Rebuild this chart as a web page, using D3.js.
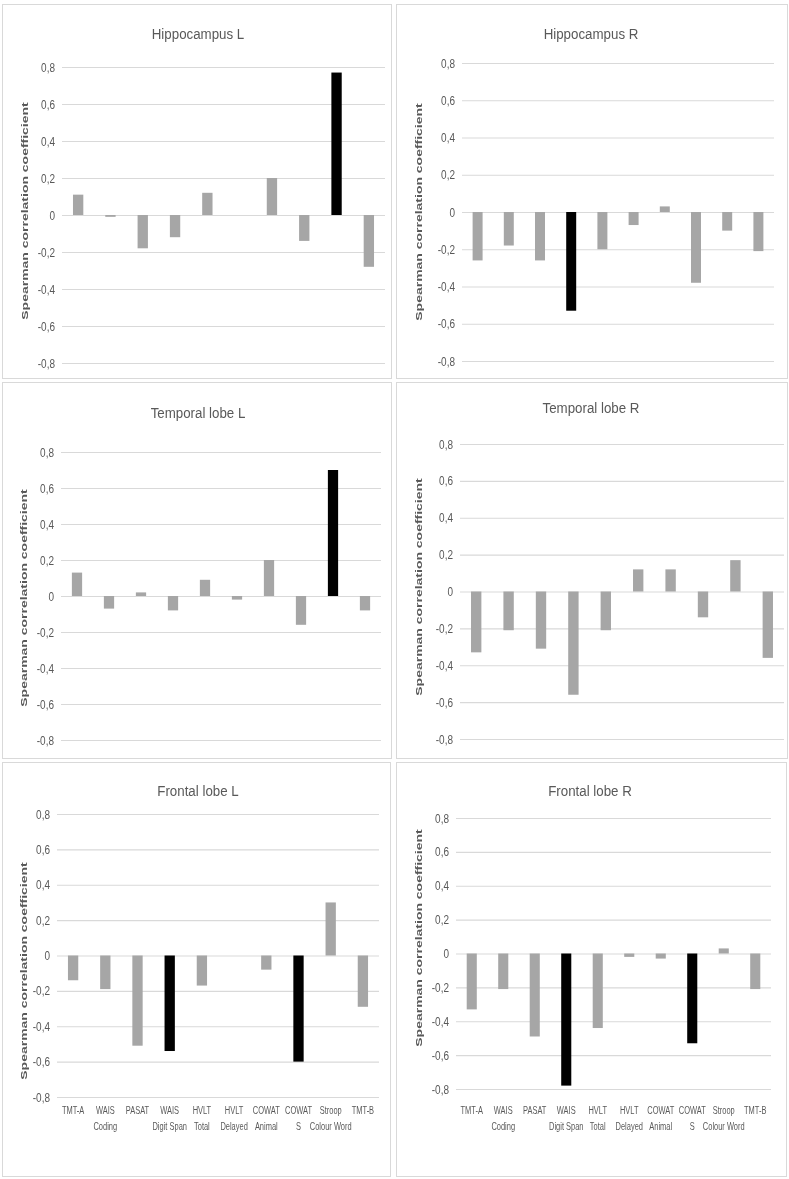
<!DOCTYPE html>
<html><head><meta charset="utf-8">
<script src="https://cdn.jsdelivr.net/npm/d3@7"></script>
<style>body{margin:0;background:#fff} #c{filter:grayscale(1)}</style>
</head><body>
<svg id="c" width="789" height="1179"></svg>
<script>
// ---- data ----
const categories = ["TMT-A","WAIS Coding","PASAT","WAIS Digit Span","HVLT Total","HVLT Delayed","COWAT Animal","COWAT S","Stroop Colour Word","TMT-B"];
const categoryLines = [["TMT-A"],["WAIS","Coding"],["PASAT"],["WAIS","Digit Span"],["HVLT","Total"],["HVLT","Delayed"],["COWAT","Animal"],["COWAT","S"],["Stroop","Colour Word"],["TMT-B"]];
const panelTitles = ["Hippocampus L","Hippocampus R","Temporal lobe L","Temporal lobe R","Frontal lobe L","Frontal lobe R"];
const hippocampusL = [0.11,-0.01,-0.18,-0.12,0.12,0,0.20,-0.14,0.77,-0.28];
const hippocampusR = [-0.26,-0.18,-0.26,-0.53,-0.20,-0.07,0.03,-0.38,-0.10,-0.21];
const temporalL = [0.13,-0.07,0.02,-0.08,0.09,-0.02,0.20,-0.16,0.70,-0.08];
const temporalR = [-0.33,-0.21,-0.31,-0.56,-0.21,0.12,0.12,-0.14,0.17,-0.36];
const frontalL = [-0.14,-0.19,-0.51,-0.54,-0.17,0,-0.08,-0.60,0.30,-0.29];
const frontalR = [-0.33,-0.21,-0.49,-0.78,-0.44,-0.02,-0.03,-0.53,0.03,-0.21];
const significant = [[8],[3],[8],[],[3,7],[3,7]];
const yTicks = [-0.8,-0.6,-0.4,-0.2,0,0.2,0.4,0.6,0.8];
const yAxisTitle = "Spearman correlation coefficient";

const seriesList = [hippocampusL,hippocampusR,temporalL,temporalR,frontalL,frontalR];

// ---- layout (positions) ----
const layout = [
 {box:[2,4,389,374], plot:[62,385,67,363], title:[198,39], ylab:[25,211], labY:null},
 {box:[396,4,391,374], plot:[462,774,63,361], title:[591,39], ylab:[419,212], labY:null},
 {box:[2,382,389,376], plot:[61,381,452,740], title:[198,418], ylab:[24,598], labY:null},
 {box:[396,382,391,376], plot:[460,784,444,739], title:[591,413], ylab:[419,587], labY:null},
 {box:[2,762,388,414], plot:[57,379,814,1097], title:[198,796], ylab:[24,971], labY:1114},
 {box:[396,762,390,414], plot:[456,771,818,1089], title:[590,796], ylab:[419,938], labY:1114}
];

const FONT = "'Liberation Sans', Arial, sans-serif";
const TXT = "#595959";
const svg = d3.select("#c");
const fmt = d3.formatLocale({decimal:",",thousands:".",grouping:[3],currency:["",""],minus:"-"}).format(".1~f");

seriesList.forEach((values,i)=>{
  const L = layout[i];
  const g = svg.append("g");
  g.append("rect")
    .attr("x",L.box[0]+0.5).attr("y",L.box[1]+0.5)
    .attr("width",L.box[2]).attr("height",L.box[3])
    .attr("fill","#fff").attr("stroke","#d9d9d9").attr("stroke-width",1);

  const x = d3.scaleBand().domain(categories).range([L.plot[0],L.plot[1]])
    .paddingInner(0.68).paddingOuter(0.34);
  const y = d3.scaleLinear().domain([-0.8,0.8]).range([L.plot[3],L.plot[2]]);

  const ax = g.append("g").attr("transform",`translate(${L.plot[0]},0)`)
    .call(d3.axisLeft(y).tickValues(yTicks).tickSize(-(L.plot[1]-L.plot[0])).tickPadding(8).tickFormat(fmt));
  ax.select(".domain").remove();
  ax.selectAll(".tick line").attr("stroke","#d9d9d9").attr("stroke-width",1.2);
  ax.selectAll(".tick text")
    .attr("x",0).attr("transform","translate(-7,0) scale(0.8,1)")
    .attr("fill",TXT).style("font-family",FONT).style("font-size","12.5px");

  g.selectAll("rect.bar").data(values).join("rect").attr("class","bar")
    .attr("x",(d,j)=>x(categories[j]))
    .attr("width",x.bandwidth())
    .attr("y",d=>y(Math.max(0,d)))
    .attr("height",d=>Math.abs(y(d)-y(0)))
    .attr("fill",(d,j)=>significant[i].includes(j)?"#000":"#a6a6a6");

  g.append("text")
    .attr("transform",`translate(${L.title[0]},${L.title[1]}) scale(0.86,1)`)
    .attr("text-anchor","middle").attr("fill",TXT)
    .style("font-family",FONT).style("font-size","15.5px")
    .text(panelTitles[i]);

  g.append("text")
    .attr("transform",`translate(${L.ylab[0]},${L.ylab[1]}) rotate(-90) scale(1,0.62)`)
    .attr("text-anchor","middle").attr("dy","0.35em").attr("fill",TXT)
    .style("font-family",FONT).style("font-size","14px").style("font-weight","bold")
    .text(yAxisTitle);

  if (L.labY){
    const lg = g.selectAll("g.cat").data(categoryLines).join("g").attr("class","cat")
      .attr("transform",(d,j)=>`translate(${x(categories[j])+x.bandwidth()/2},${L.labY}) scale(0.68,1)`);
    lg.selectAll("text").data(d=>d).join("text")
      .attr("y",(d,k)=>k*16).attr("text-anchor","middle").attr("fill",TXT)
      .style("font-family",FONT).style("font-size","11px")
      .text(d=>d);
  }
});
</script>
</body></html>
